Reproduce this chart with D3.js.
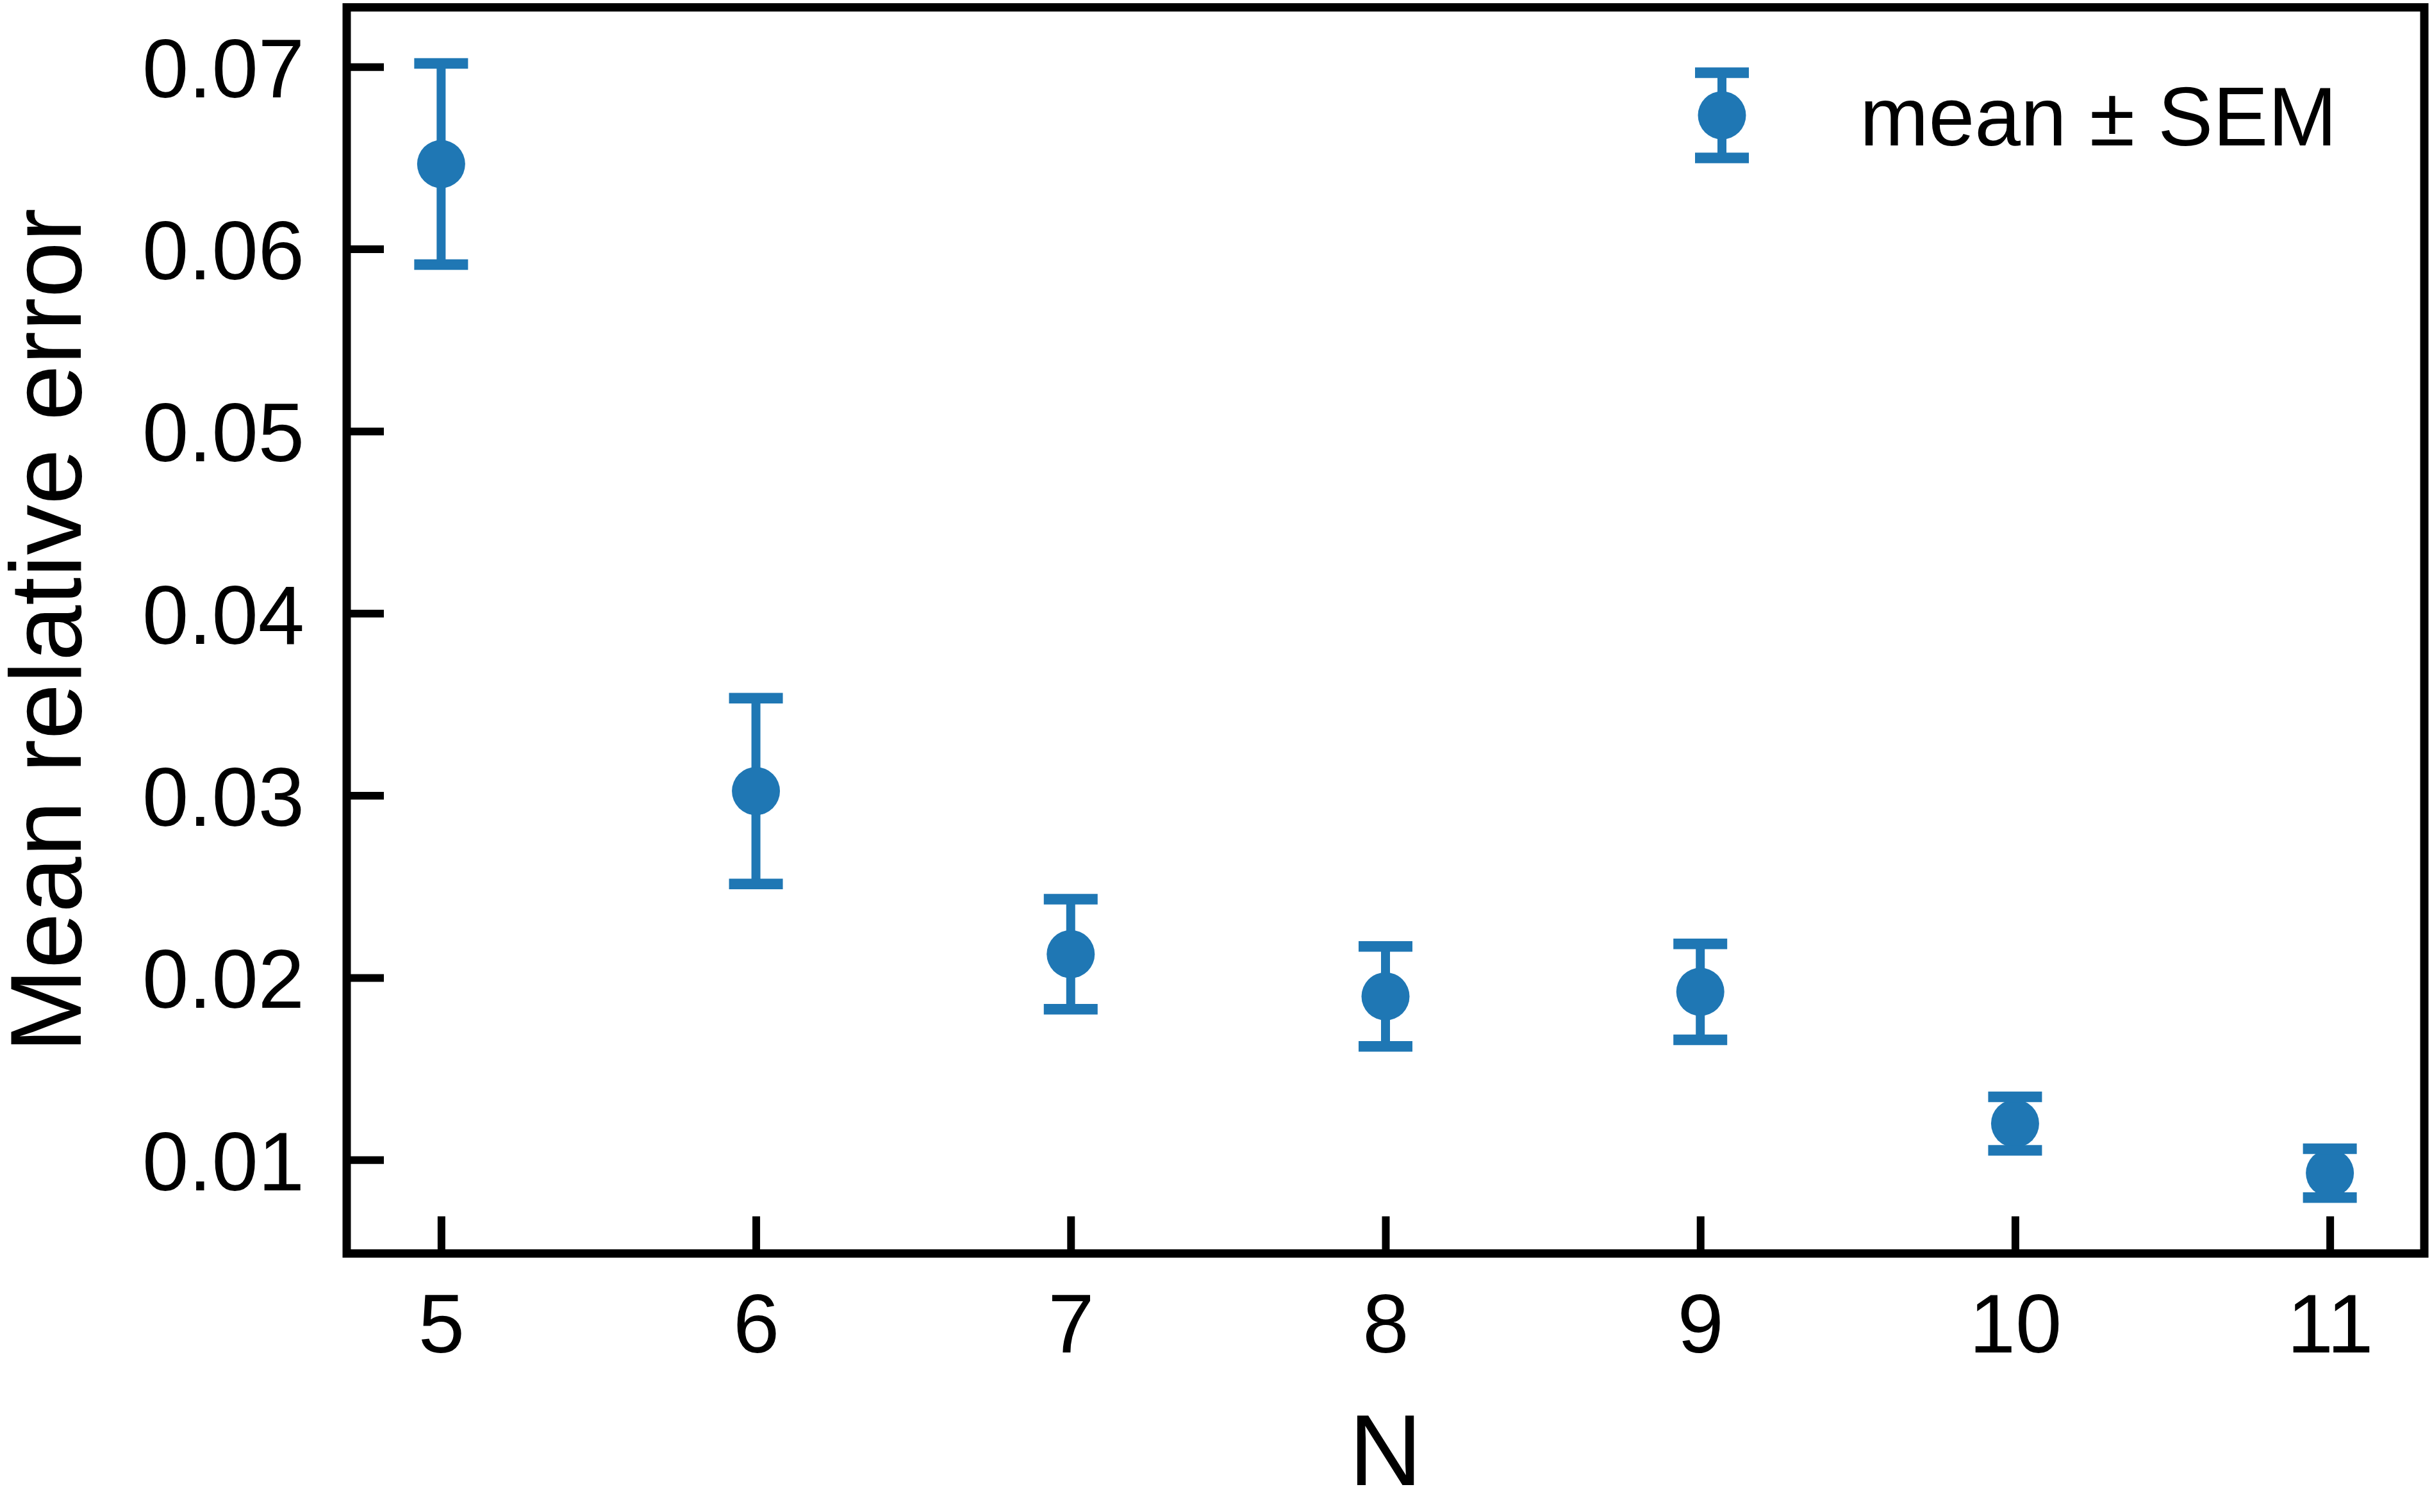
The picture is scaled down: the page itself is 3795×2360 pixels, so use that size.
<!DOCTYPE html>
<html>
<head>
<meta charset="utf-8">
<script src="https://cdn.jsdelivr.net/npm/d3@7.9.0/dist/d3.min.js"></script>
<style>
  body { margin: 0; background: #fff; }
  svg { display: block; font-family: "Liberation Sans", Arial, sans-serif; }
</style>
</head>
<body>
<div id="chart"></div>
<script>
// values
const ns = [5, 6, 7, 8, 9, 10, 11];
const means = [0.06466, 0.03024, 0.02129, 0.01897, 0.01922, 0.01199, 0.00927];
const sems = [0.00552, 0.0051, 0.00302, 0.00274, 0.00263, 0.00147, 0.00134];
const yTicks = [0.01, 0.02, 0.03, 0.04, 0.05, 0.06, 0.07];
const xTicks = [5, 6, 7, 8, 9, 10, 11];

const width = 3795;
const height = 2360;
const frame = { left: 541, right: 3783, top: 11.5, bottom: 1956.5 };
const blue = '#1f77b4';

const data = ns.map((n, i) => ({ n, mean: means[i], sem: sems[i] }));

const svg = d3.select('#chart')
  .append('svg')
  .attr('width', width)
  .attr('height', height)
  .attr('viewBox', `0 0 ${width} ${height}`);

const x = d3.scaleLinear()
  .domain([4.7, 11.3])
  .range([frame.left, frame.right]);

const y = d3.scaleLinear()
  .domain([0.004858, 0.07326])
  .range([frame.bottom, frame.top]);

// axes, ticks pointing inward
const yAxis = d3.axisLeft(y)
  .tickValues(yTicks)
  .tickFormat(d3.format('.2f'))
  .tickSize(-58)
  .tickPadding(66);

const xAxis = d3.axisBottom(x)
  .tickValues(xTicks)
  .tickFormat(d3.format('d'))
  .tickSize(-58)
  .tickPadding(62);

const gy = svg.append('g')
  .attr('transform', `translate(${frame.left},0)`)
  .call(yAxis);

const gx = svg.append('g')
  .attr('transform', `translate(0,${frame.bottom})`)
  .call(xAxis);

[gx, gy].forEach(g => {
  g.select('.domain').remove();
  g.attr('font-size', 130).attr('font-family', null);
  g.selectAll('.tick line').attr('stroke', '#000').attr('stroke-width', 12);
  g.selectAll('.tick text').attr('fill', '#000');
});
gy.selectAll('.tick text').attr('dy', '0.36em');

// error bars
const marks = svg.append('g');

marks.selectAll('line.bar')
  .data(data)
  .join('line')
  .attr('class', 'bar')
  .attr('x1', d => x(d.n))
  .attr('x2', d => x(d.n))
  .attr('y1', d => y(d.mean - d.sem))
  .attr('y2', d => y(d.mean + d.sem))
  .attr('stroke', blue)
  .attr('stroke-width', 14);

marks.selectAll('circle')
  .data(data)
  .join('circle')
  .attr('cx', d => x(d.n))
  .attr('cy', d => y(d.mean))
  .attr('r', 37.5)
  .attr('fill', blue);

const caps = data.flatMap(d => [d.mean - d.sem, d.mean + d.sem].map(v => ({ n: d.n, v })));
marks.selectAll('line.cap')
  .data(caps)
  .join('line')
  .attr('class', 'cap')
  .attr('x1', d => x(d.n) - 42)
  .attr('x2', d => x(d.n) + 42)
  .attr('y1', d => y(d.v))
  .attr('y2', d => y(d.v))
  .attr('stroke', blue)
  .attr('stroke-width', 16.5);

// frame
svg.append('rect')
  .attr('x', frame.left)
  .attr('y', frame.top)
  .attr('width', frame.right - frame.left)
  .attr('height', frame.bottom - frame.top)
  .attr('fill', 'none')
  .attr('stroke', '#000')
  .attr('stroke-width', 13);

// axis labels
svg.append('text')
  .attr('x', (frame.left + frame.right) / 2)
  .attr('y', 2318)
  .attr('text-anchor', 'middle')
  .attr('font-size', 158)
  .text('N');

svg.append('text')
  .attr('transform', `translate(126,${(frame.top + frame.bottom) / 2}) rotate(-90)`)
  .attr('text-anchor', 'middle')
  .attr('font-size', 157)
  .text('Mean relative error');

// legend
const lg = svg.append('g').attr('transform', 'translate(2687,180)');
lg.append('line')
  .attr('y1', -66.5).attr('y2', 66.5)
  .attr('stroke', blue).attr('stroke-width', 14);
lg.append('circle').attr('r', 37.5).attr('fill', blue);
[-66.5, 66.5].forEach(v => {
  lg.append('line')
    .attr('x1', -42).attr('x2', 42)
    .attr('y1', v).attr('y2', v)
    .attr('stroke', blue).attr('stroke-width', 16.5);
});
lg.append('text')
  .attr('x', 215)
  .attr('y', 47)
  .attr('font-size', 129)
  .text('mean ± SEM');
</script>
</body>
</html>
